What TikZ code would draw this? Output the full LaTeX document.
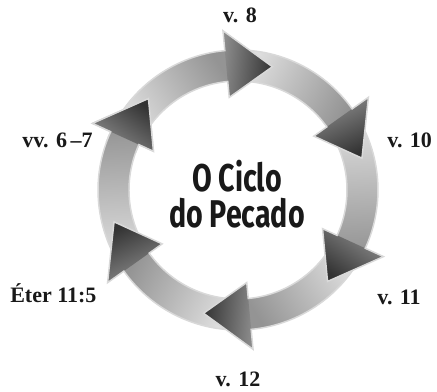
\documentclass[tikz,border=0pt]{standalone}
\usepackage{fontspec}
\setmainfont{Liberation Serif}
\newfontfamily\centerfont[FakeStretch=0.74]{Fira Sans}
\tikzset{
  lbl/.style={font=\bfseries\fontsize{16.5}{18}\selectfont, inner sep=0pt, text=black!90},
  ctr/.style={font=\centerfont\bfseries\fontsize{29}{29}\selectfont, inner sep=0pt, text=black!90},
  edgeline/.style={draw=black!15, line width=1.1pt, line join=miter},
}
\newcommand\cycarrow[1]{%
  \pgfmathsetmacro\cyta{#1+75}%
  \pgfmathsetmacro\cytb{#1+21}%
  \pgfmathsetmacro\cytc{#1+18}%
  \pgfmathsetmacro\cysa{#1-132}%
  \pgfmathsetmacro\cyha{#1-170}%
  \shade[bottom color=black!13, top color=black!42, shading angle=\cysa]
    (\cyta:140) arc[start angle=\cyta, end angle=\cytc, radius=140]
    -- (\cytc:109) arc[start angle=\cytc, end angle=\cyta, radius=109] -- cycle;
  \shade[bottom color=black!45, top color=black!80, shading angle=\cyha]
    (\cytb:160) -- (#1:128) -- (\cytb:93) -- cycle;
  \draw[edgeline]
    (\cyta:140) arc[start angle=\cyta, end angle=\cytb, radius=140]
    -- (\cytb:160) -- (#1:128) -- (\cytb:93) -- (\cytb:109)
    arc[start angle=\cytb, end angle=\cyta, radius=109] -- cycle;
}
\begin{document}
\begin{tikzpicture}[x=0.75pt, y=0.75pt]
  \useasboundingbox (-238,-202) rectangle (199,190);
  \foreach \k in {5,4,3,2,1,0} {
    \pgfmathsetmacro\tipang{74.4-60*\k}
    \cycarrow{\tipang}
  }
  \begin{scope}
    \clip (0,0) -- (131.4:185) arc[start angle=131.4, end angle=160, radius=185] -- cycle;
    \cycarrow{134.4}
  \end{scope}
  \node[ctr, anchor=base] (ct1) at (-1,-2) {O Ciclo};
  \node[ctr, anchor=base] (ct2) at (-1,-38) {do Pecado};
  \node[lbl, anchor=base] (v8) at (2,167) {v. 8};
  \node[lbl, anchor=base west] (v10) at (149,42) {v. 10};
  \node[lbl, anchor=base west] (v11) at (139,-115) {v. 11};
  \node[lbl, anchor=base] (v12) at (0,-197) {v. 12};
  \node[lbl, anchor=base west] (eter) at (-228,-113) {Éter 11:5};
  \node[lbl, anchor=base east] (vv67) at (-145,42) {vv. 6\,–7};
\end{tikzpicture}
\end{document}
